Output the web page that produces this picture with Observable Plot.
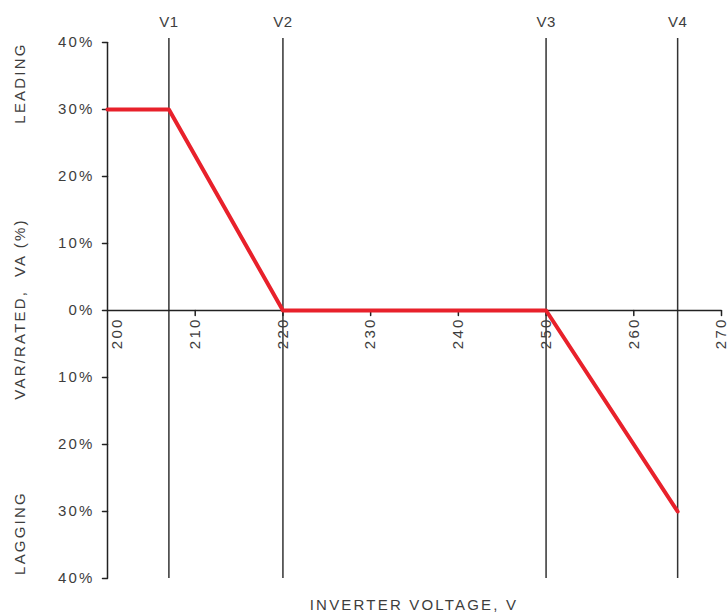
<!DOCTYPE html>
<html>
<head>
<meta charset="utf-8">
<script src="https://cdn.jsdelivr.net/npm/d3@7"></script>
<script src="https://cdn.jsdelivr.net/npm/@observablehq/plot@0.6"></script>
<style>
  html, body { margin: 0; padding: 0; background: #fff; }
  #chart { width: 728px; height: 616px; }
  svg text { font-family: "Liberation Sans", Arial, sans-serif; }
</style>
</head>
<body>
<div id="chart"></div>
<script>
// Data
const voltage = [200, 207, 220, 250, 265];
const varPct  = [30, 30, 0, 0, -30];
const markerNames = ["V1", "V2", "V3", "V4"];
const markerVolts = [207, 220, 250, 265];
const xTicks = [200, 210, 220, 230, 240, 250, 260, 270];
const yTicks = [40, 30, 20, 10, 0, -10, -20, -30, -40];

const curve = voltage.map((v, i) => ({v, q: varPct[i]}));
const markers = markerNames.map((n, i) => ({n, v: markerVolts[i]}));

const textColor = "#3d3d3d";
const font = {fontSize: 15, fill: textColor};
const spike = {draw(ctx, l) { ctx.moveTo(0, 0); ctx.lineTo(0, -l); }};

const chart = Plot.plot({
  width: 728,
  height: 616,
  marginLeft: 107,
  marginRight: 7,
  marginTop: 42,
  marginBottom: 38,
  x: {domain: [200, 270], axis: null},
  y: {domain: [-40, 40], axis: null},
  marks: [
    // vertical marker lines
    Plot.ruleX(markers, {x: "v", y1: -40, y2: 40.6, stroke: "#333", strokeWidth: 1.5}),
    // y axis line
    Plot.ruleX([200], {x: d => d, y1: -40, y2: 40, stroke: "#222", strokeWidth: 1.5}),
    // x axis line at zero
    Plot.ruleY([0], {y: d => d, x1: 200, x2: 270, stroke: "#222", strokeWidth: 1.5}),
    // y ticks
    Plot.vector(yTicks, {x: xTicks[0], y: d => d, length: 5, rotate: -90, anchor: "start", shape: spike, stroke: "#222", strokeWidth: 1.5}),
    Plot.text(yTicks, {x: xTicks[0], y: d => d, text: d => Math.abs(d) + "%", dx: -13, textAnchor: "end", ...font}),
    // x ticks
    Plot.vector(xTicks.slice(1), {x: d => d, y: 0, length: 5, rotate: 180, anchor: "start", shape: spike, stroke: "#222", strokeWidth: 1.5}),
    Plot.text(xTicks.slice(1), {x: d => d, y: 0, dy: 7, rotate: -90, textAnchor: "end", ...font}),
    Plot.text(xTicks.slice(0, 1), {x: d => d, y: 0, dy: 7, dx: 10, rotate: -90, textAnchor: "end", ...font}),
    // curve
    Plot.line(curve, {x: "v", y: "q", stroke: "#e8212b", strokeWidth: 4}),
    // marker labels
    Plot.text(markers, {x: "v", y: 40, dy: -20, text: "n", ...font})
  ]
});

const svg = d3.select(chart);
svg.style("overflow", "visible");
// letter spacing for tick labels (not the V-labels)
svg.selectAll("text").each(function() {
  const t = this.textContent;
  this.style.letterSpacing = /^V/.test(t) ? "0.5px" : "2.2px";
});
// Axis titles
const addText = (x, y, txt, rot, ls) => {
  svg.append("text")
    .attr("transform", `translate(${x},${y}) rotate(${rot})`)
    .attr("text-anchor", "middle")
    .attr("dominant-baseline", "middle")
    .attr("font-size", 15)
    .attr("fill", textColor)
    .style("letter-spacing", ls)
    .text(txt);
};
addText(21, 83, "LEADING", -90, "2.2px");
addText(21, 533, "LAGGING", -90, "2.2px");
addText(21, 309, "VAR/RATED,  VA (%)", -90, "2.2px");
addText(414, 606, "INVERTER VOLTAGE, V", 0, "2.2px");

document.getElementById("chart").appendChild(chart);
</script>
</body>
</html>
